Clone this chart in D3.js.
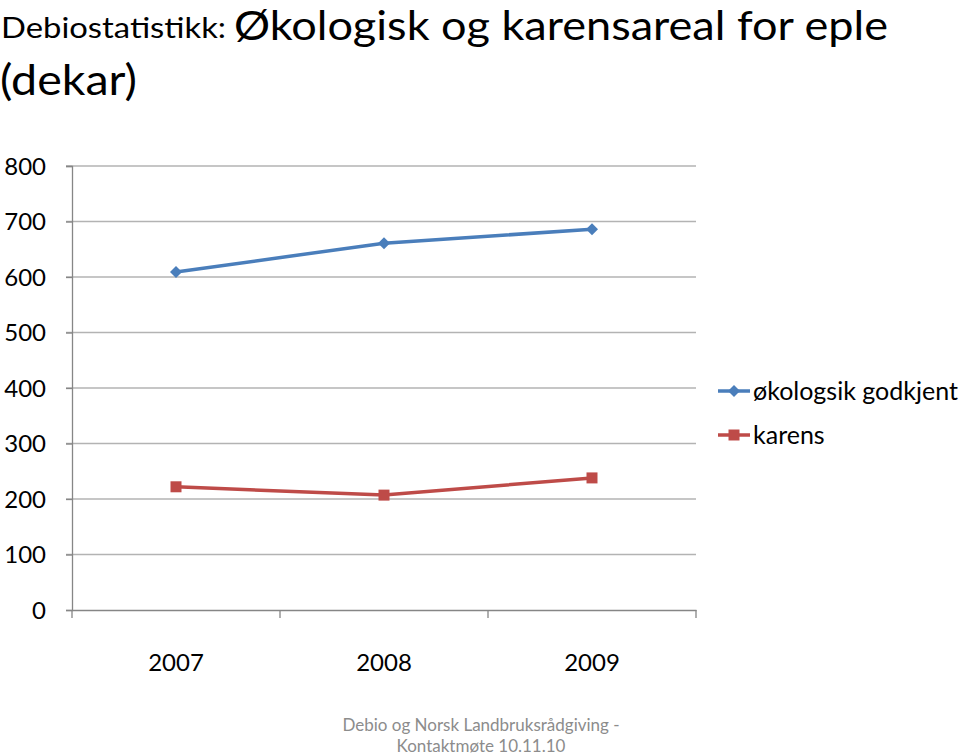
<!DOCTYPE html>
<html>
<head>
<meta charset="utf-8">
<script src="https://cdn.jsdelivr.net/npm/d3@7"></script>
<style>
  body { margin: 0; background: #fff; }
  text { font-family: Lato, "Open Sans", sans-serif; }
</style>
</head>
<body>
<div id="main"></div>
<script>
const w = 960;
const h = 755;

// data
const years = ["2007", "2008", "2009"];
const okologisk = [609, 661, 686];
const karens = [222, 207, 238];
const seriesNames = ["økologsik godkjent", "karens"];
const yTicks = [0, 100, 200, 300, 400, 500, 600, 700, 800];

const plot = {left: 72, right: 696, top: 166, bottom: 610};

const svg = d3.select("#main")
  .append("svg")
  .attr("width", w)
  .attr("height", h);

// title
svg.append("text")
  .attr("x", 1).attr("y", 38)
  .attr("font-size", 28)
  .attr("textLength", 225)
  .attr("lengthAdjust", "spacingAndGlyphs")
  .text("Debiostatistikk:");
svg.append("text")
  .attr("x", 234).attr("y", 40)
  .attr("font-size", 40)
  .attr("textLength", 654)
  .attr("lengthAdjust", "spacingAndGlyphs")
  .text("Økologisk og karensareal for eple");
svg.append("text")
  .attr("x", 0).attr("y", 95)
  .attr("font-size", 42)
  .attr("textLength", 137)
  .attr("lengthAdjust", "spacingAndGlyphs")
  .text("(dekar)");

const x = d3.scaleBand()
  .domain(years)
  .range([plot.left, plot.right]);

const y = d3.scaleLinear()
  .domain([0, 800])
  .range([plot.bottom, plot.top]);

// gridlines
svg.append("g")
  .selectAll("line")
  .data(yTicks.filter(d => d > 0))
  .enter()
  .append("line")
  .attr("x1", plot.left - 6)
  .attr("x2", plot.right)
  .attr("y1", d => y(d))
  .attr("y2", d => y(d))
  .attr("stroke", "#b3b3b3")
  .attr("stroke-width", 1.3);

// y axis
const yAxis = svg.append("g")
  .attr("transform", "translate(" + plot.left + ",0)")
  .call(d3.axisLeft(y).tickValues(yTicks).tickSize(6).tickPadding(20));
yAxis.select(".domain").attr("stroke", "#868686").attr("stroke-width", 1.3);
yAxis.selectAll(".tick line").attr("stroke", "#868686").attr("stroke-width", 1.3);
yAxis.selectAll("text")
  .attr("font-size", 24)
  .attr("font-family", "Lato, sans-serif")
  .attr("fill", "#000")
  .attr("dy", "0.35em");

// x axis
const xAxis = svg.append("g")
  .attr("transform", "translate(0," + plot.bottom + ")")
  .call(d3.axisBottom(x).tickSize(0).tickPadding(44));
xAxis.select(".domain").attr("stroke", "#868686").attr("stroke-width", 1.3);
xAxis.selectAll("text")
  .attr("font-size", 24)
  .attr("font-family", "Lato, sans-serif")
  .attr("fill", "#000");
xAxis.selectAll("line.sep")
  .data(x.domain().concat(["end"]))
  .enter()
  .append("line")
  .attr("class", "sep")
  .attr("x1", (d, i) => plot.left + i * x.bandwidth())
  .attr("x2", (d, i) => plot.left + i * x.bandwidth())
  .attr("y1", 0)
  .attr("y2", 8)
  .attr("stroke", "#868686")
  .attr("stroke-width", 1.3);

const line = d3.line()
  .x((d, i) => x(years[i]) + x.bandwidth() / 2)
  .y(d => y(d));

// diamond = square turned 45 degrees
const series = [
  {name: seriesNames[0], values: okologisk, color: "#4a7ebb", size: 72, rot: 45},
  {name: seriesNames[1], values: karens, color: "#be4b48", size: 121, rot: 0}
];

series.forEach(function(s) {
  svg.append("path")
    .datum(s.values)
    .attr("d", line)
    .attr("fill", "none")
    .attr("stroke", s.color)
    .attr("stroke-width", 3.5);

  svg.append("g")
    .selectAll("path")
    .data(s.values)
    .enter()
    .append("path")
    .attr("transform", (d, i) => "translate(" + (x(years[i]) + x.bandwidth() / 2) + "," + y(d) + ") rotate(" + s.rot + ")")
    .attr("d", d3.symbol().type(d3.symbolSquare).size(s.size))
    .attr("fill", s.color);
});

// legend
const legend = svg.append("g");
series.forEach(function(s, i) {
  const ly = 391 + i * 44;
  legend.append("line")
    .attr("x1", 718).attr("x2", 750)
    .attr("y1", ly).attr("y2", ly)
    .attr("stroke", s.color)
    .attr("stroke-width", 3.5);
  legend.append("path")
    .attr("transform", "translate(734," + ly + ") rotate(" + s.rot + ")")
    .attr("d", d3.symbol().type(d3.symbolSquare).size(s.size))
    .attr("fill", s.color);
  legend.append("text")
    .attr("x", 753)
    .attr("y", ly + 9)
    .attr("font-size", 25)
    .text(s.name);
});

// footer
svg.append("text")
  .attr("x", 481).attr("y", 731)
  .attr("text-anchor", "middle")
  .attr("font-size", 17)
  .attr("fill", "#8c8c8c")
  .text("Debio og Norsk Landbruksrådgiving -");
svg.append("text")
  .attr("x", 481).attr("y", 752)
  .attr("text-anchor", "middle")
  .attr("font-size", 17)
  .attr("fill", "#8c8c8c")
  .text("Kontaktmøte 10.11.10");
</script>
</body>
</html>
